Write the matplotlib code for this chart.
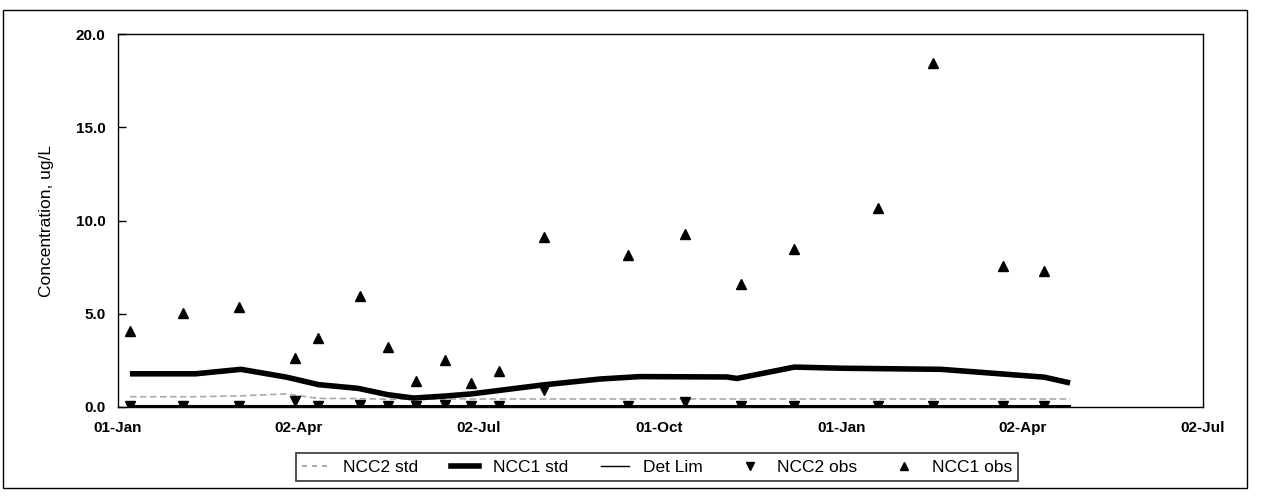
import datetime as dt
import matplotlib
matplotlib.use("Agg")
import matplotlib.pyplot as plt
import matplotlib.dates as mdates
from matplotlib.lines import Line2D
from matplotlib.patches import Rectangle

plt.rcParams['font.family'] = ['Liberation Sans', 'DejaVu Sans']

# sampling dates of the observations
obs_dates = ["1997-01-07", "1997-02-03", "1997-03-03", "1997-03-31", "1997-04-12",
             "1997-05-03", "1997-05-17", "1997-05-31", "1997-06-15", "1997-06-28",
             "1997-07-12", "1997-08-04", "1997-09-15", "1997-10-14", "1997-11-11",
             "1997-12-08", "1998-01-19", "1998-02-16", "1998-03-23", "1998-04-13"]
ncc1_obs = [4.09, 5.04, 5.34, 2.63, 3.70, 5.93, 3.20, 1.37, 2.54, 1.29,
            1.91, 9.09, 8.17, 9.29, 6.57, 8.49, 10.65, 18.44, 7.54, 7.27]
ncc2_obs = [0.08, 0.08, 0.08, 0.30, 0.08, 0.10, 0.08, 0.05, 0.10, 0.08,
            0.08, 0.90, 0.08, 0.25, 0.05, 0.05, 0.08, 0.08, 0.08, 0.05]

# standard curves
std_dates = ["1997-01-07", "1997-02-09", "1997-03-04", "1997-03-27", "1997-04-12",
             "1997-05-02", "1997-05-17", "1997-05-30", "1997-06-14", "1997-06-28",
             "1997-07-13", "1997-08-03", "1997-09-01", "1997-09-21", "1997-11-04",
             "1997-11-09", "1997-12-08", "1997-12-31", "1998-02-20", "1998-04-13",
             "1998-04-26"]
ncc1_std = [1.78, 1.78, 2.02, 1.60, 1.20, 1.00, 0.66, 0.48, 0.58, 0.70,
            0.90, 1.18, 1.50, 1.63, 1.61, 1.53, 2.14, 2.08, 2.02, 1.60, 1.29]
ncc2_std = [0.55, 0.55, 0.60, 0.70, 0.46, 0.45, 0.42, 0.42, 0.43, 0.43,
            0.43, 0.43, 0.43, 0.43, 0.43, 0.43, 0.43, 0.43, 0.43, 0.43, 0.43]
det_lim = [0.03] * len(std_dates)

tick_dates = ["1997-01-01", "1997-04-02", "1997-07-02", "1997-10-01",
              "1998-01-01", "1998-04-02", "1998-07-02"]

def to_dt(lst):
    return [dt.datetime.strptime(s, "%Y-%m-%d") for s in lst]

od = to_dt(obs_dates)
sd = to_dt(std_dates)
td = to_dt(tick_dates)

fig = plt.figure(figsize=(12.66, 4.99), dpi=100)
ax = fig.add_axes([118/1266, 1 - 407/499, (1203 - 118)/1266, (407 - 34)/499])

ax.plot(sd, ncc2_std, color="#aaaaaa", lw=1.2, ls=(0, (4, 2)), label="NCC2 std")
ax.plot(sd, ncc1_std, color="black", lw=4, solid_capstyle="butt", label="NCC1 std")
ax.plot(sd, det_lim, color="black", lw=1.5, label="Det Lim")
ax.plot(od, ncc2_obs, ls="none", marker="v", ms=7, color="black", label="NCC2 obs")
ax.plot(od, ncc1_obs, ls="none", marker="^", ms=7, color="black", label="NCC1 obs")

ax.set_ylim(0, 20)
ax.set_yticks([0, 5, 10, 15, 20])
ax.set_yticklabels(["0.0", "5.0", "10.0", "15.0", "20.0"], fontweight="bold")
ax.set_xlim(td[0], td[-1])
ax.set_xticks(td)
ax.xaxis.set_major_formatter(mdates.DateFormatter("%d-%b"))
for lab in ax.get_xticklabels():
    lab.set_fontweight("bold")
ax.tick_params(axis="x", length=0, pad=10, labelsize=11)
ax.tick_params(axis="y", direction="in", length=6, width=1, pad=9, labelsize=11)
ax.set_ylabel("Concentration, ug/L", fontsize=12.5, labelpad=16)
for sp in ax.spines.values():
    sp.set_linewidth(1)
    sp.set_color("black")

handles = [
    Line2D([], [], color="#999999", lw=1.2, ls=(0, (3, 3))),
    Line2D([], [], color="black", lw=4),
    Line2D([], [], color="black", lw=1),
    Line2D([], [], ls="none", marker="v", ms=6, color="black"),
    Line2D([], [], ls="none", marker="^", ms=6, color="black"),
]
labels = ["NCC2 std", "NCC1 std", "Det Lim", "NCC2 obs", "NCC1 obs"]
leg = fig.legend(handles, labels, loc="center", bbox_to_anchor=(657/1266, 1 - 467/499),
                 ncol=5, frameon=True, fancybox=False, shadow=False, fontsize=12.5,
                 handlelength=1.6, columnspacing=1.9, borderpad=0.35)
leg.get_frame().set_edgecolor("black")
leg.get_frame().set_linewidth(1.2)

# outer chart border
fig.add_artist(Rectangle((3/1266, 1 - 488/499), (1247 - 3)/1266, (488 - 10)/499,
                         transform=fig.transFigure, fill=False, ec="black", lw=1))

fig.savefig("out.png", dpi=100)
